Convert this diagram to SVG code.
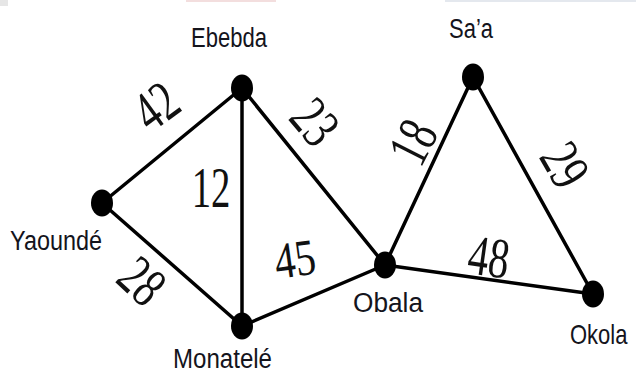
<svg xmlns="http://www.w3.org/2000/svg" width="636" height="374" viewBox="0 0 636 374">
  <style>
    .edge { stroke: #000; stroke-width: 3.5; stroke-linecap: round; fill: none; }
    .dot { fill: #000; }
    .name { font-family: "Liberation Sans", Arial, sans-serif; font-size: 27px; fill: #14141c; }
    .w { font-family: "Liberation Serif", "Times New Roman", serif; font-size: 57px; fill: #111; text-anchor: middle; }
  </style>
  <rect width="636" height="374" fill="#fff"/>
  <!-- faint strip along the top border -->
  <rect x="0" y="0" width="8" height="6" fill="#e6e6e6"/>
  <rect x="186" y="0" width="90" height="2" fill="#f3dede"/>
  <rect x="445" y="0" width="191" height="2" fill="#e4e8ee"/>

  <g id="connectors">
    <line class="edge" x1="102" y1="203" x2="242" y2="88"/>
    <line class="edge" x1="102" y1="203" x2="242" y2="326"/>
    <line class="edge" x1="242" y1="88" x2="242" y2="326"/>
    <line class="edge" x1="242" y1="88" x2="385" y2="265"/>
    <line class="edge" x1="242" y1="326" x2="385" y2="265"/>
    <line class="edge" x1="385" y1="265" x2="473" y2="77"/>
    <line class="edge" x1="473" y1="77" x2="593" y2="294"/>
    <line class="edge" x1="385" y1="265" x2="593" y2="294"/>
    <!-- edge weights -->
    <text class="w" transform="translate(156,106) rotate(-36) scale(0.72,1)" y="19">42</text>
    <text class="w" transform="translate(211,187) scale(0.68,1)" y="20">12</text>
    <text class="w" transform="translate(315,122) rotate(50) scale(0.72,1)" y="19">23</text>
    <text class="w" transform="translate(295,260) rotate(-8) scale(0.72,0.9)" y="18">45</text>
    <text class="w" transform="translate(142,281) rotate(43) scale(0.72,1)" y="19">28</text>
    <text class="w" transform="translate(413,142) rotate(-63) scale(0.72,1)" y="19">18</text>
    <text class="w" transform="translate(565,165) rotate(60) scale(0.72,1)" y="19">29</text>
    <text class="w" transform="translate(489,257) rotate(8) scale(0.72,1)" y="19">48</text>
  </g>

  <g id="ebebda">
    <ellipse class="dot" cx="242" cy="88" rx="11" ry="13.5"/>
    <text class="name" x="191" y="47" textLength="76" lengthAdjust="spacingAndGlyphs">Ebebda</text>
  </g>
  <g id="yaounde">
    <ellipse class="dot" cx="102" cy="203" rx="11" ry="13.5"/>
    <text class="name" x="10" y="250" textLength="92" lengthAdjust="spacingAndGlyphs">Yaoundé</text>
  </g>
  <g id="monatele">
    <ellipse class="dot" cx="242" cy="326" rx="11" ry="13.5"/>
    <text class="name" x="173" y="368" textLength="99" lengthAdjust="spacingAndGlyphs">Monatelé</text>
  </g>
  <g id="obala">
    <ellipse class="dot" cx="385" cy="265" rx="11" ry="13.5"/>
    <text class="name" x="353" y="312" textLength="70" lengthAdjust="spacingAndGlyphs">Obala</text>
  </g>
  <g id="saa">
    <ellipse class="dot" cx="473" cy="77" rx="11" ry="13.5"/>
    <text class="name" x="449" y="38" textLength="44" lengthAdjust="spacingAndGlyphs">Sa’a</text>
  </g>
  <g id="okola">
    <ellipse class="dot" cx="593" cy="294" rx="11" ry="13.5"/>
    <text class="name" style="font-size:22px" transform="translate(570,344) scale(1,1.22)">Okola</text>
  </g>
</svg>
